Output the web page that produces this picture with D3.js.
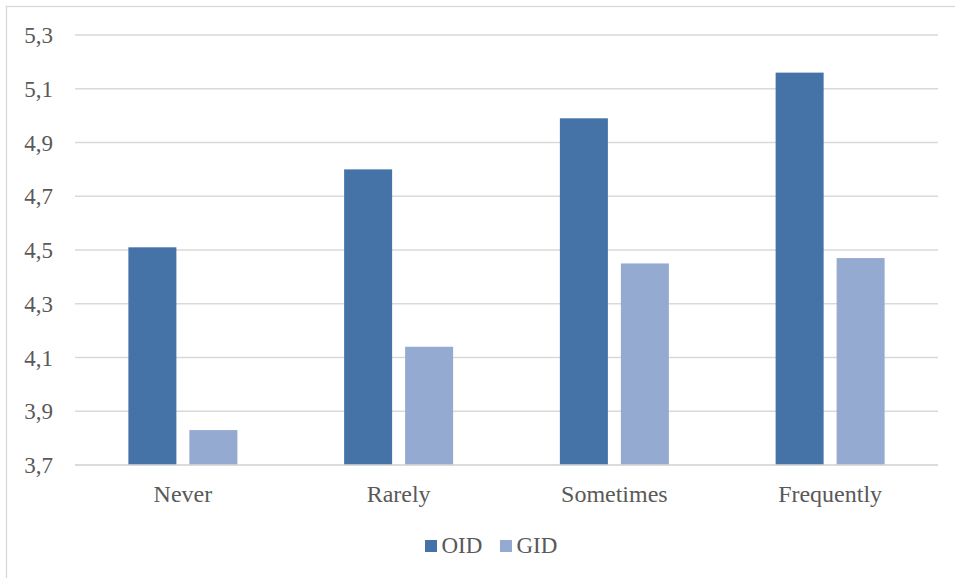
<!DOCTYPE html>
<html>
<head>
<meta charset="utf-8">
<script src="https://cdn.jsdelivr.net/npm/d3@7"></script>
</head>
<body style="margin:0">
<svg id="chart" width="955" height="578"></svg>
<script>
// Frequency categories and mean scores per series
const categories = ["Never", "Rarely", "Sometimes", "Frequently"];
const seriesNames = ["OID", "GID"];
const oidValues = [4.51, 4.80, 4.99, 5.16];
const gidValues = [3.83, 4.14, 4.45, 4.47];
const yTicks = [3.7, 3.9, 4.1, 4.3, 4.5, 4.7, 4.9, 5.1, 5.3];
const seriesColors = ["#4572A7", "#95AAD0"];

const FONT = "Liberation Serif";
const TEXT_COLOR = "#595959";

const svg = d3.select("#chart");
const W = 955, H = 578;
const plot = { left: 75, right: 938, top: 35, bottom: 465 };

// Outer chart frame
svg.append("rect")
  .attr("x", 6.5).attr("y", 6.5)
  .attr("width", W + 10).attr("height", H + 10)
  .attr("fill", "#fff").attr("stroke", "#D9D9D9").attr("stroke-width", 1.3);

const x0 = d3.scaleBand().domain(categories).range([plot.left, plot.right]);
const groupWidth = 109;
const x1 = d3.scaleBand().domain(seriesNames).range([0, groupWidth]).paddingInner(0.213);
const y = d3.scaleLinear().domain([3.7, 5.3]).range([plot.bottom, plot.top]);

const fmt = v => d3.format(".1f")(v).replace(".", ",");

// Horizontal gridlines
svg.append("g")
  .selectAll("line")
  .data(yTicks)
  .join("line")
  .attr("x1", plot.left).attr("x2", plot.right)
  .attr("y1", d => y(d)).attr("y2", d => y(d))
  .attr("stroke", "#D9D9D9").attr("stroke-width", 1.3);

// Bars
const rows = categories.map((c, i) => ({ cat: c, vals: [oidValues[i], gidValues[i]] }));
const groups = svg.append("g")
  .selectAll("g")
  .data(rows)
  .join("g")
  .attr("transform", d => `translate(${x0(d.cat) + x0.bandwidth() / 2 - groupWidth / 2},0)`);

groups.selectAll("rect")
  .data(d => d.vals.map((v, j) => ({ key: seriesNames[j], v, j })))
  .join("rect")
  .attr("x", d => x1(d.key))
  .attr("width", x1.bandwidth())
  .attr("y", d => y(d.v))
  .attr("height", d => y(3.7) - y(d.v))
  .attr("fill", d => seriesColors[d.j]);

// Baseline drawn over the bar bottoms
svg.append("line")
  .attr("x1", plot.left).attr("x2", plot.right)
  .attr("y1", y(3.7)).attr("y2", y(3.7))
  .attr("stroke", "#D9D9D9").attr("stroke-width", 1.3);

// Y tick labels, right-aligned against the plot
svg.selectAll("text.ytick")
  .data(yTicks)
  .join("text")
  .attr("class", "ytick")
  .attr("x", 53)
  .attr("y", d => y(d) + 8)
  .attr("text-anchor", "end")
  .attr("font-size", 23)
  .attr("fill", TEXT_COLOR)
  .style("font-family", FONT)
  .text(fmt);

// Category labels centred under each bar pair
svg.selectAll("text.xtick")
  .data(categories)
  .join("text")
  .attr("class", "xtick")
  .attr("x", d => x0(d) + x0.bandwidth() / 2)
  .attr("y", plot.bottom + 37)
  .attr("text-anchor", "middle")
  .attr("font-size", 24)
  .attr("fill", TEXT_COLOR)
  .style("font-family", FONT)
  .text(d => d);

// Legend
const legendX = [425, 500];
svg.selectAll("rect.legend-key")
  .data(seriesNames)
  .join("rect")
  .attr("class", "legend-key")
  .attr("x", (d, i) => legendX[i]).attr("y", 540)
  .attr("width", 12).attr("height", 12)
  .attr("fill", (d, i) => seriesColors[i]);
svg.selectAll("text.legend-label")
  .data(seriesNames)
  .join("text")
  .attr("class", "legend-label")
  .attr("x", (d, i) => legendX[i] + 16.5).attr("y", 552.5)
  .attr("font-size", 23)
  .attr("fill", TEXT_COLOR)
  .style("font-family", FONT)
  .text(d => d);
</script>
</body>
</html>
